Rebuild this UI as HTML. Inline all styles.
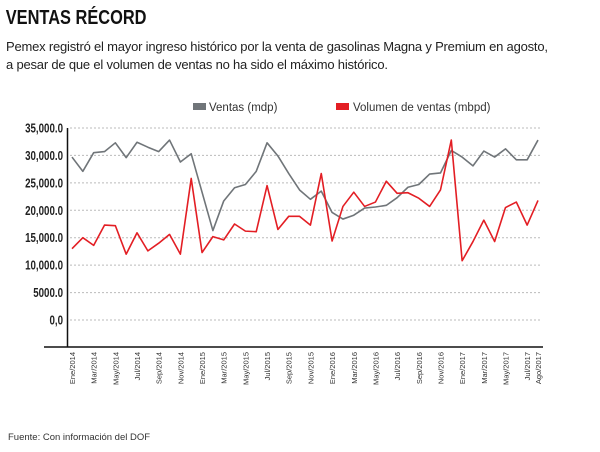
<!DOCTYPE html>
<html><head><meta charset="utf-8"><style>
body{margin:0;background:#fff;width:600px;height:452px;overflow:hidden;font-family:"Liberation Sans",sans-serif}
svg{position:absolute;left:0;top:0}
</style></head><body>
<svg width="600" height="452">
<text x="7" y="24" font-size="20" font-weight="bold" fill="#111" transform="scale(0.82,1)">VENTAS RÉCORD</text>
<text x="6" y="51" font-size="13" fill="#222" textLength="542">Pemex registró el mayor ingreso histórico por la venta de gasolinas Magna y Premium en agosto,</text>
<text x="6" y="69" font-size="13" fill="#222" textLength="382">a pesar de que el volumen de ventas no ha sido el máximo histórico.</text>
<rect x="193" y="103" width="13" height="7" fill="#707579"/>
<text x="209" y="111" font-size="11.5" fill="#333">Ventas (mdp)</text>
<rect x="336" y="103" width="13" height="7" fill="#e31e24"/>
<text x="353" y="111" font-size="11.5" fill="#333">Volumen de ventas (mbpd)</text>
<g id="plot"></g>
<text x="8" y="440" font-size="9.5" fill="#333">Fuente: Con información del DOF</text>
</svg>
<script>
const months=["Ene","Feb","Mar","Abr","May","Jun","Jul","Ago","Sep","Oct","Nov","Dic"];
const categories=[];for(let y=2014;y<=2017;y++)for(const m of months){if(y===2017&&categories.length>=44)break;categories.push(m+"/"+y);}
const ventas=[29700,27100,30500,30700,32300,29600,32400,31500,30700,32800,28800,30300,23300,16300,21700,24100,24700,27100,32300,29900,26700,23700,22000,23500,19600,18400,19100,20400,20600,20900,22300,24200,24700,26600,26800,30900,29700,28100,30800,29700,31200,29200,29200,32800];
const volumen=[13000,15000,13600,17300,17200,12000,15900,12600,14000,15600,12000,25800,12300,15200,14600,17500,16200,16100,24500,16500,18900,18900,17300,26700,14400,20700,23300,20700,21500,25300,23100,23200,22200,20700,23700,32800,10800,14300,18200,14300,20500,21500,17300,21800];
const yTicks=[0,5000,10000,15000,20000,25000,30000,35000];
const yTickLabels=["0,0","5000.0","10,000.0","15,000.0","20,000.0","25,000.0","30,000.0","35,000.0"];
const NS="http://www.w3.org/2000/svg";
const g=document.getElementById('plot');
const X0=72,X1=538,Y0=320,Y1=128;
const xs=i=>X0+(X1-X0)*i/(categories.length-1);
const ys=v=>Y0-(Y0-Y1)*v/35000;
function mk(t,a){const e=document.createElementNS(NS,t);for(const k in a)e.setAttribute(k,a[k]);g.appendChild(e);return e;}
yTicks.forEach((v,i)=>{
 const l=mk('line',{x1:70,x2:541,y1:ys(v),y2:ys(v),stroke:'#bbb','stroke-dasharray':'2,2','stroke-width':1});
 
 
 const t=mk('text',{x:63,y:ys(v)+4.5,'text-anchor':'end','font-size':12.5,'font-weight':'bold',fill:'#222',transform:`translate(63,0) scale(0.78,1) translate(-63,0)`});
 t.textContent=yTickLabels[i];
 
 
});
const ax=mk('line',{x1:67.5,x2:67.5,y1:128,y2:347,stroke:'#111','stroke-width':1.5});


const bx=mk('line',{x1:44,x2:543,y1:347,y2:347,stroke:'#111','stroke-width':1.5});


categories.forEach((c,i)=>{
 if(i%2!==0&&i!==categories.length-1)return;
 const x=xs(i)+3;
 const t=mk('text',{x:x,y:352,'text-anchor':'end','font-size':7.5,fill:'#333',transform:`rotate(-90 ${x} 352)`});
 t.textContent=c;
 
 
});
function line(data,col,name){
 const p=mk('polyline',{points:data.map((v,i)=>xs(i)+','+ys(v)).join(' '),fill:'none',stroke:col,'stroke-width':1.6,'stroke-linejoin':'round'});
 
 
}
line(ventas,'#707579','ventas-line');
line(volumen,'#e31e24','volumen-line');
</script>
</body></html>
